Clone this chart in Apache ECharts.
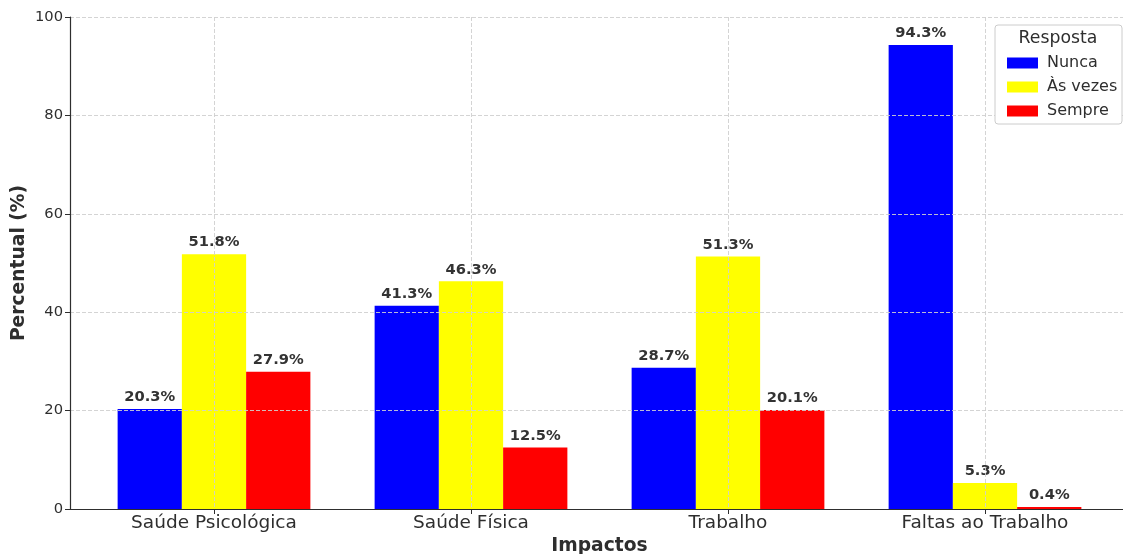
<!DOCTYPE html>
<html>
<head>
<meta charset="utf-8">
<script src="https://cdn.jsdelivr.net/npm/echarts@6/dist/echarts.min.js"></script>
<style>
  html, body { margin: 0; padding: 0; background: #fff; }
  #chart { width: 1123px; height: 554px; }
</style>
</head>
<body>
<div id="chart"></div>
<script>
// Categories and response shares (%)
const categories = ['Saúde Psicológica', 'Saúde Física', 'Trabalho', 'Faltas ao Trabalho'];
const nunca = [20.3, 41.3, 28.7, 94.3];
const asVezes = [51.8, 46.3, 51.3, 5.3];
const sempre = [27.9, 12.5, 20.1, 0.4];
const yTicks = [0, 20, 40, 60, 80, 100];

const FONT = 'DejaVu Sans';
const TEXT = '#2e2e2e';
const GRIDLINE = { color: '#cfcfcf', type: [4, 2], width: 0.9 };

function barSeries(name, values, color) {
  return {
    name: name,
    type: 'bar',
    xAxisIndex: 0,
    yAxisIndex: 0,
    data: values,
    barGap: '0%',
    barCategoryGap: '25%',
    itemStyle: { color: color },
    label: {
      show: true,
      position: 'top',
      distance: 4,
      formatter: p => p.value.toFixed(1) + '%',
      fontFamily: FONT,
      fontWeight: 'bold',
      fontSize: 14.7,
      color: '#333333'
    },
    emphasis: { disabled: true }
  };
}

const chart = echarts.init(document.getElementById('chart'), null, { renderer: 'canvas' });

chart.setOption({
  animation: false,
  backgroundColor: '#ffffff',
  textStyle: { fontFamily: FONT },
  grid: [
    // bars: bands centred on the category ticks
    { left: 85.5, right: 9.5, top: 17, bottom: 45, containLabel: false, outerBoundsMode: 'none' },
    // frame: y axis, x axis line and horizontal grid lines
    { left: 70, right: -7, top: 17, bottom: 45, containLabel: false, outerBoundsMode: 'none' }
  ],
  xAxis: [
    {
      type: 'category',
      gridIndex: 0,
      data: categories,
      boundaryGap: true,
      z: 5,
      axisLine: { show: false },
      axisTick: { show: true, alignWithLabel: true, length: 5, lineStyle: { color: TEXT, width: 1 } },
      axisLabel: { margin: 5, fontFamily: FONT, fontSize: 18.5, color: TEXT },
      splitLine: { show: true, alignWithLabel: true, lineStyle: GRIDLINE },
      name: 'Impactos',
      nameLocation: 'middle',
      nameGap: 28,
      nameMoveOverlap: false,
      nameTextStyle: { fontFamily: FONT, fontWeight: 'bold', fontSize: 18.7, color: TEXT }
    },
    {
      type: 'value',
      gridIndex: 1,
      min: 0,
      max: 1,
      z: 5,
      axisLine: { show: true, onZero: false, lineStyle: { color: TEXT, width: 1.2 } },
      axisTick: { show: false },
      axisLabel: { show: false },
      splitLine: { show: false }
    }
  ],
  yAxis: [
    {
      type: 'value',
      gridIndex: 0,
      min: 0,
      max: 100,
      show: false,
      splitLine: { show: false }
    },
    {
      type: 'value',
      gridIndex: 1,
      min: yTicks[0],
      max: yTicks[yTicks.length - 1],
      interval: 20,
      z: 5,
      axisLine: { show: true, lineStyle: { color: TEXT, width: 1.2 } },
      axisTick: { show: true, length: 5, lineStyle: { color: TEXT, width: 1 } },
      axisLabel: { margin: 7, fontFamily: FONT, fontSize: 14.7, color: TEXT },
      splitLine: { show: true, lineStyle: GRIDLINE },
      name: 'Percentual (%)',
      nameLocation: 'middle',
      nameGap: 41,
      nameMoveOverlap: false,
      nameTextStyle: { fontFamily: FONT, fontWeight: 'bold', fontSize: 18.7, color: TEXT }
    }
  ],
  legend: {
    orient: 'vertical',
    left: 1002,
    top: 50,
    z: 20,
    itemWidth: 31,
    itemHeight: 11,
    itemGap: 8,
    icon: 'rect',
    selectedMode: false,
    textStyle: { fontFamily: FONT, fontSize: 16, color: TEXT, padding: [0, 0, 0, 4] },
    data: ['Nunca', 'Às vezes', 'Sempre']
  },
  graphic: [
    {
      type: 'rect',
      z: 15,
      shape: { x: 995, y: 25, width: 127, height: 99, r: 3 },
      style: { fill: '#ffffff', stroke: '#cccccc', lineWidth: 1 }
    },
    {
      type: 'text',
      z: 16,
      style: {
        x: 1058, y: 39,
        text: 'Resposta',
        align: 'center',
        verticalAlign: 'middle',
        fontFamily: FONT,
        fontSize: 17.3,
        fill: TEXT
      }
    }
  ],
  series: [
    barSeries('Nunca', nunca, '#0000ff'),
    barSeries('Às vezes', asVezes, '#ffff00'),
    barSeries('Sempre', sempre, '#ff0000')
  ]
});
</script>
</body>
</html>
